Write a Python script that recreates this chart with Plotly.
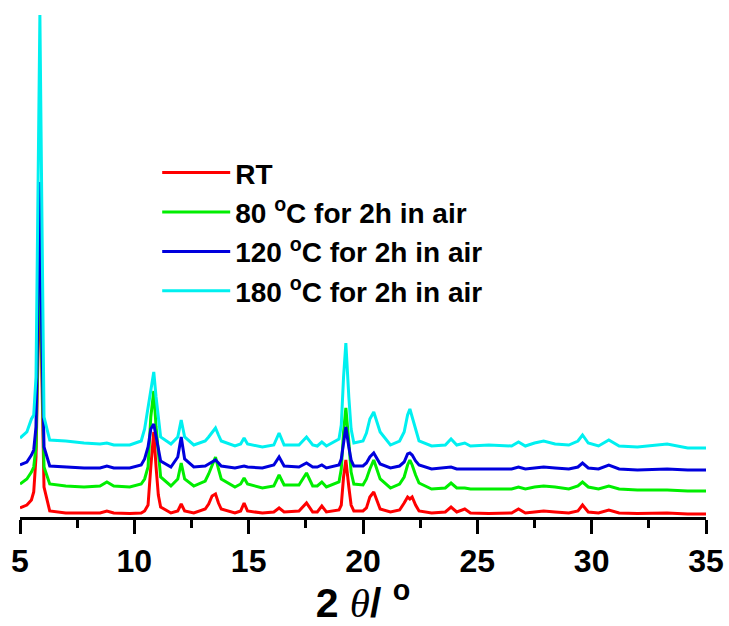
import plotly.graph_objects as go

# 2-theta positions (degrees) at which the patterns were read
two_theta = [5.0, 5.3, 5.5, 5.6, 5.7, 5.78, 5.87, 5.95, 6.05, 6.3, 7.0, 7.8, 8.5, 8.8, 9.1, 9.8,
             10.3, 10.45, 10.6, 10.72, 10.85, 10.95, 11.05, 11.15, 11.6, 11.9, 12.05, 12.2, 12.6,
             13.1, 13.25, 13.4, 13.55, 13.68, 13.8, 14.4, 14.65, 14.8, 14.95, 15.6, 16.1, 16.33,
             16.55, 17.2, 17.53, 17.8, 18.0, 18.2, 18.4, 18.95, 19.05, 19.15, 19.25, 19.38, 19.48,
             19.6, 20.0, 20.15, 20.3, 20.47, 20.6, 20.75, 21.2, 21.6, 21.8, 21.95, 22.05, 22.15,
             22.3, 22.45, 23.0, 23.6, 23.85, 24.1, 24.45, 24.7, 25.5, 26.5, 26.8, 27.1, 27.5,
             27.9, 28.4, 29.0, 29.4, 29.6, 29.85, 30.3, 30.75, 31.2, 32.0, 33.3, 34.2, 35.0]

# Intensities (a.u., stacked with offsets as in the figure)
rt = [9, 12, 17, 25, 60, 160, 260, 150, 30, 6, 4, 4, 4, 6, 4, 3.5,
      4, 6, 12, 50, 85, 50, 22, 10, 4, 6, 13, 6, 4,
      8, 13, 21, 23, 14, 8, 4, 6, 14, 6, 4, 5, 9,
      5, 6, 14, 5, 5, 11, 5, 7, 12, 40, 57, 30, 12,
      6, 6, 9, 20, 25, 17, 8, 5, 7, 14, 20, 18, 20,
      12, 6, 4, 5, 10, 5, 8, 4, 3.5, 4, 8, 4, 5,
      6, 5, 4, 6, 12, 5, 4, 7, 4, 3.5, 4, 3, 3]
c80 = [33, 38, 45, 50, 70, 180, 300, 170, 50, 33, 31, 30, 31, 35, 31, 30,
       33, 38, 50, 100, 126, 90, 62, 40, 31, 38, 54, 38, 31,
       36, 43, 52, 60, 48, 38, 30, 33, 39, 33, 29, 31, 42,
       32, 32, 44, 31, 31, 35, 30, 35, 48, 85, 109, 75, 45,
       33, 32, 38, 48, 57, 48, 38, 29, 33, 40, 52, 57, 52,
       42, 34, 28, 29, 34, 29, 29, 28, 28, 28, 30, 28, 30,
       31, 30, 28, 31, 35, 30, 28, 31, 28, 27, 27, 26, 26]
c120 = [52, 55, 62, 67, 90, 200, 335, 190, 70, 51, 50, 49, 49, 51, 49, 49,
        52, 58, 70, 88, 93, 80, 66, 56, 50, 60, 80, 58, 50,
        51, 53, 55, 57, 54, 51, 49, 50, 51, 50, 49, 52, 60,
        51, 50, 54, 50, 50, 52, 49, 52, 58, 75, 90, 70, 57,
        51, 51, 54, 60, 64, 59, 53, 49, 51, 55, 63, 64, 62,
        56, 52, 48, 49, 50, 48, 48, 48, 48, 48, 50, 48, 49,
        50, 49, 48, 50, 54, 49, 48, 52, 48, 47, 48, 47, 47]
c180 = [79, 85, 98, 102, 140, 330, 502, 320, 100, 77, 76, 74, 73, 74, 72, 72,
        76, 88, 110, 130, 145, 120, 98, 80, 73, 80, 97, 80, 72,
        76, 80, 84, 89, 82, 76, 71, 73, 79, 73, 70, 72, 84,
        72, 72, 80, 72, 71, 75, 71, 78, 92, 140, 174, 120, 88,
        74, 76, 84, 98, 105, 96, 85, 72, 76, 85, 102, 108, 100,
        88, 76, 71, 72, 78, 72, 74, 71, 72, 71, 75, 71, 74,
        76, 73, 72, 76, 82, 74, 71, 77, 71, 70, 73, 69, 69]

names = ["RT",
         "80 <sup>o</sup>C for 2h in air",
         "120 <sup>o</sup>C for 2h in air",
         "180 <sup>o</sup>C for 2h in air"]
colors = ["#ff0000", "#00ee00", "#0000dd", "#00f0f0"]
series = [rt, c80, c120, c180]

fig = go.Figure()
for name, col, ys in zip(names, colors, series):
    fig.add_trace(go.Scatter(x=two_theta, y=ys, mode="lines", name=name,
                             line=dict(color=col, width=3)))

font_main = "Arial, Liberation Sans, sans-serif"

fig.update_layout(
    width=729, height=626,
    margin=dict(l=20, r=23, t=10, b=109, autoexpand=False),
    paper_bgcolor="white", plot_bgcolor="white",
    showlegend=True,
    legend=dict(x=0.20, y=0.728, xanchor="left", yanchor="top",
                bgcolor="rgba(0,0,0,0)", itemwidth=68,
                font=dict(family=font_main, size=28, color="black", weight="bold"),
                tracegroupgap=0),
    xaxis=dict(range=[5, 35], tick0=5, dtick=5, showgrid=False, zeroline=False,
               automargin=False,
               showline=True, linecolor="black", linewidth=3,
               ticks="outside", ticklen=14, tickwidth=3, tickcolor="black",
               minor=dict(dtick=2.5, ticks="outside", ticklen=8, tickwidth=3, tickcolor="black"),
               tickfont=dict(family=font_main, size=32, color="black", weight="bold"),
               title=dict(text="<b>2 </b><span style='font-family:Liberation Serif'><i>θ</i></span><b>/ <sup>o</sup></b>",
                          font=dict(family=font_main, size=41, color="black"),
                          standoff=20)),
    yaxis=dict(range=[0, 507], visible=False, automargin=False),
)

fig.write_html("out.html")
